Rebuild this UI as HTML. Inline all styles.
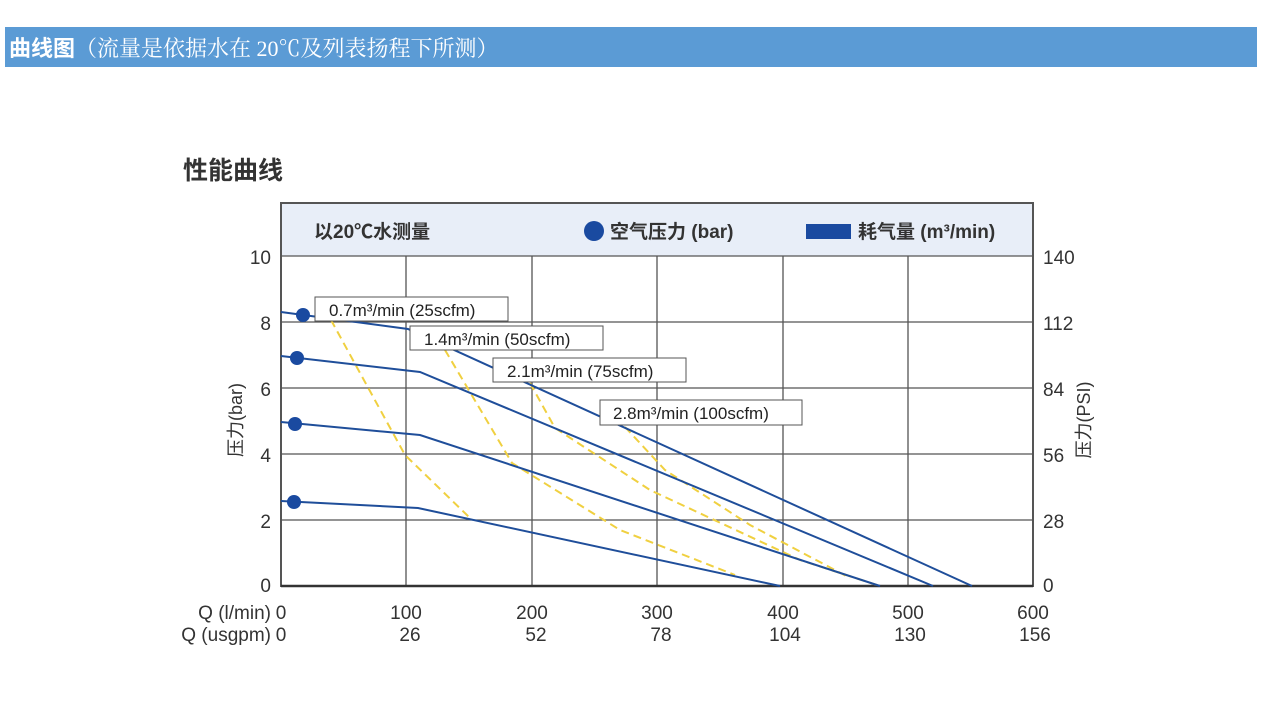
<!DOCTYPE html>
<html><head><meta charset="utf-8"><style>
body{margin:0;width:1262px;height:716px;background:#fff;overflow:hidden;font-family:"Liberation Sans","Noto Sans CJK SC",sans-serif}
.bar{position:absolute;left:5px;top:27px;width:1252px;height:40px;background:#5b9bd5;color:#fff;font-size:22px;line-height:40px;padding-left:4px;box-sizing:border-box}
</style></head><body>
<div class="bar"><b style="font-family:'Noto Sans CJK SC',sans-serif">曲线图</b><span style="font-family:'Liberation Serif','Noto Serif CJK SC',serif">（流量是依据水在 20℃及列表扬程下所测）</span></div>
<svg width="1262" height="716" style="position:absolute;left:0;top:0" font-family="Liberation Sans, Noto Sans CJK SC, sans-serif" fill="#333">
<text x="183" y="179" font-size="25" font-weight="bold" font-family="Noto Sans CJK SC, sans-serif" fill="#333">性能曲线</text>
<rect x="281" y="203" width="752" height="53" fill="#e8eef8"/>
<g stroke="#555" stroke-width="1.3" fill="none">
<rect x="281" y="203" width="752" height="383" stroke-width="2"/>
<line x1="281" y1="256" x2="1033" y2="256"/>
<line x1="281" y1="322" x2="1033" y2="322"/><line x1="281" y1="388" x2="1033" y2="388"/>
<line x1="281" y1="454" x2="1033" y2="454"/><line x1="281" y1="520" x2="1033" y2="520"/>
<line x1="406" y1="256" x2="406" y2="586"/><line x1="532" y1="256" x2="532" y2="586"/>
<line x1="657" y1="256" x2="657" y2="586"/><line x1="783" y1="256" x2="783" y2="586"/>
<line x1="908" y1="256" x2="908" y2="586"/>
</g>
<line x1="281" y1="586" x2="1033" y2="586" stroke="#333" stroke-width="2.5"/>
<g stroke="#f0d040" stroke-width="2" fill="none" stroke-dasharray="8,5">
<path d="M331 320 L405 455 L470 518"/>
<path d="M445 350 L512 463 L620 530 L735 575"/>
<path d="M530 383 L555 428 L650 490 L800 560 L880 586"/>
<path d="M625 427 L665 470 L750 525 L850 578"/>
</g>
<g stroke="#1f4e9a" stroke-width="2" fill="none">
<path d="M281 312 L408 329 L972 586"/>
<path d="M281 356 L420 372 L933 586"/>
<path d="M281 422 L420 435 L880 586"/>
<path d="M281 501 L418 508 L780 586"/>
</g>
<g fill="#1a4aa0"><circle cx="303" cy="315" r="7"/><circle cx="297" cy="358" r="7"/><circle cx="295" cy="424" r="7"/><circle cx="294" cy="502" r="7"/>
<circle cx="594" cy="231" r="10"/><rect x="806" y="224" width="45" height="15"/></g>
<g fill="#fff" stroke="#555" stroke-width="1">
<rect x="315" y="297" width="193" height="24"/><rect x="410" y="326" width="193" height="24"/>
<rect x="493" y="358" width="193" height="24"/><rect x="600" y="400" width="202" height="25"/>
</g>
<g font-size="17" fill="#222">
<text x="329" y="316">0.7m³/min (25scfm)</text>
<text x="424" y="345">1.4m³/min (50scfm)</text>
<text x="507" y="377">2.1m³/min (75scfm)</text>
<text x="613" y="419">2.8m³/min (100scfm)</text>
</g>
<g font-size="19" fill="#333" font-weight="bold">
<text x="314" y="238">以20℃水测量</text>
<text x="610" y="238">空气压力 (bar)</text>
<text x="858" y="238">耗气量 (m³/min)</text>
</g>
<g font-size="19" text-anchor="end">
<text x="271" y="264">10</text><text x="271" y="330">8</text><text x="271" y="396">6</text>
<text x="271" y="462">4</text><text x="271" y="528">2</text><text x="271" y="592">0</text>
</g>
<g font-size="19">
<text x="1043" y="264">140</text><text x="1043" y="330">112</text><text x="1043" y="396">84</text>
<text x="1043" y="462">56</text><text x="1043" y="528">28</text><text x="1043" y="592">0</text>
</g>
<text transform="translate(242,420) rotate(-90)" font-size="18" text-anchor="middle">压力(bar)</text>
<text transform="translate(1090,420) rotate(-90)" font-size="18" text-anchor="middle">压力(PSI)</text>
<g font-size="19" text-anchor="middle">
<text x="281" y="619">0</text><text x="406" y="619">100</text><text x="532" y="619">200</text><text x="657" y="619">300</text><text x="783" y="619">400</text><text x="908" y="619">500</text><text x="1033" y="619">600</text>
<text x="281" y="641">0</text><text x="410" y="641">26</text><text x="536" y="641">52</text><text x="661" y="641">78</text><text x="785" y="641">104</text><text x="910" y="641">130</text><text x="1035" y="641">156</text>
</g>
<g font-size="19" text-anchor="end"><text x="271" y="619">Q (l/min)</text><text x="271" y="641">Q (usgpm)</text></g>
</svg>
</body></html>
